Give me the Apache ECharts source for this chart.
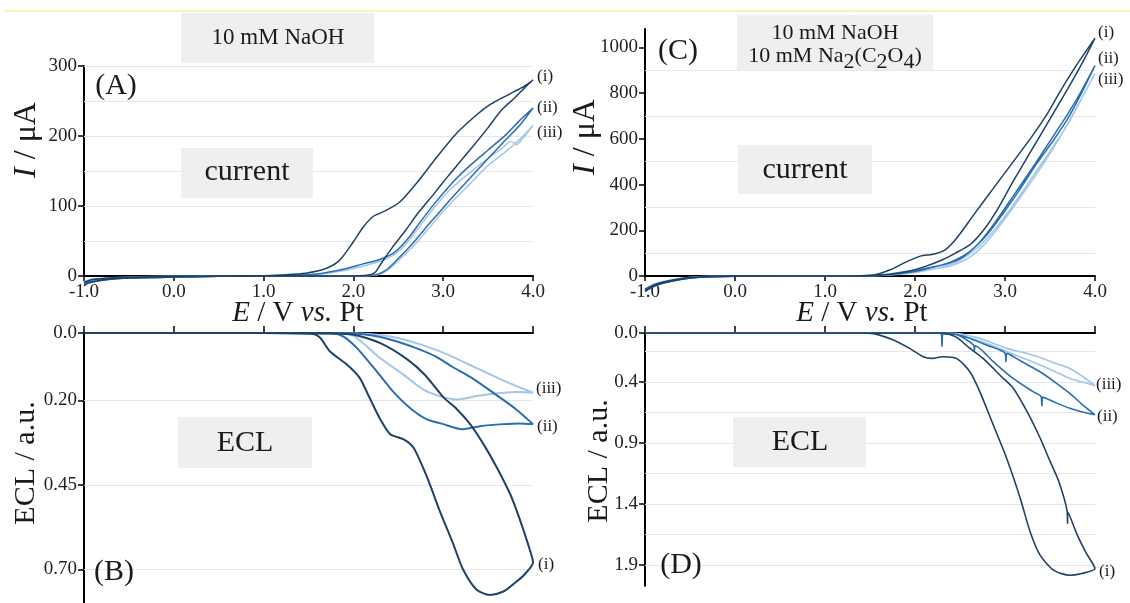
<!DOCTYPE html>
<html><head><meta charset="utf-8">
<script src="https://cdn.jsdelivr.net/npm/echarts@6/dist/echarts.min.js"></script>
<style>html,body{margin:0;padding:0;background:#fff}#c{width:1130px;height:603px}</style>
</head><body><div id="c"></div>
<script>
// ---------- DATA ----------
const xTicks = [-1, 0, 1, 2, 3, 4];
// Panel A current (µA)
const A_i_fwd = [[-1.0,-9],[-0.9,-5],[-0.7,-3],[-0.4,-1.5],[0,-0.5],[0.5,0],[1.0,0.5],[1.2,1.5],[1.47,4],[1.7,11],[1.85,23],[2.0,49],[2.11,70],[2.22,85],[2.37,94],[2.52,106],[2.7,132],[2.93,170],[3.15,204],[3.37,230],[3.5,243],[3.65,254],[3.8,264],[3.9,271],[4.0,280]];
const A_i_rev = [[4.0,280],[3.9,268],[3.8,255],[3.65,237],[3.5,212],[3.33,185],[3.18,162],[3.05,142],[2.9,118],[2.72,90],[2.58,65],[2.44,42],[2.32,20],[2.24,5],[2.15,1],[1.8,0],[1.0,0],[0.5,-0.5],[0,-1.5],[-0.5,-3],[-0.8,-6],[-0.95,-10],[-1.0,-14]];
const A_ii_fwd = [[-1.0,-10],[-0.9,-5],[-0.7,-3],[-0.4,-1.5],[0,-0.5],[0.5,0],[1.0,0.3],[1.3,1],[1.6,3],[1.9,10],[2.1,17],[2.3,24],[2.45,33],[2.6,52],[2.75,78],[2.9,103],[3.1,133],[3.3,158],[3.5,180],[3.7,202],[3.85,222],[4.0,240]];
const A_ii_rev = [[4.0,240],[3.85,215],[3.7,195],[3.5,168],[3.3,140],[3.1,112],[2.95,90],[2.8,68],[2.65,45],[2.5,25],[2.38,10],[2.28,3],[2.15,0.5],[1.5,0],[0.5,-0.5],[0,-1.5],[-0.5,-3],[-0.8,-6],[-0.95,-9],[-1.0,-12]];
const A_iii_fwd = [[-1.0,-8],[-0.9,-4],[-0.7,-2.5],[-0.4,-1],[0,-0.5],[0.5,0],[1.0,0.3],[1.3,1],[1.6,2.5],[1.9,8],[2.1,14],[2.3,21],[2.45,30],[2.6,48],[2.75,73],[2.9,98],[3.1,126],[3.3,148],[3.5,168],[3.65,182],[3.75,192],[3.82,188],[3.88,196],[4.0,215]];
const A_iii_rev = [[4.0,215],[3.85,195],[3.7,178],[3.5,158],[3.3,132],[3.1,106],[2.95,85],[2.8,62],[2.65,40],[2.5,22],[2.38,8],[2.28,2],[2.15,0.3],[1.5,0],[0.5,-0.5],[0,-1],[-0.5,-2.5],[-0.8,-5],[-0.95,-8],[-1.0,-11]];
// Panel B ECL (a.u.)
const B_i_fwd = [[-1.0,0],[0,0],[1.0,0],[1.55,0.003],[1.63,0.014],[1.74,0.055],[1.93,0.094],[2.07,0.133],[2.18,0.192],[2.3,0.256],[2.41,0.30],[2.56,0.315],[2.67,0.34],[2.82,0.427],[2.96,0.526],[3.11,0.624],[3.22,0.70],[3.37,0.76],[3.52,0.776],[3.67,0.766],[3.8,0.74],[3.9,0.717],[4.0,0.68]];
const B_i_rev = [[4.0,0.68],[3.95,0.63],[3.85,0.55],[3.75,0.48],[3.6,0.40],[3.45,0.33],[3.3,0.27],[3.15,0.225],[3.0,0.19],[2.8,0.125],[2.6,0.078],[2.3,0.03],[2.0,0.005],[1.5,0],[0,0],[-1.0,0]];
const B_ii_fwd = [[-1.0,0],[1.0,0],[1.8,0.002],[1.9,0.012],[2.04,0.045],[2.26,0.114],[2.44,0.173],[2.63,0.222],[2.82,0.256],[3.0,0.27],[3.21,0.285],[3.41,0.276],[3.67,0.27],[3.85,0.268],[4.0,0.27]];
const B_ii_rev = [[4.0,0.27],[3.81,0.226],[3.61,0.187],[3.33,0.135],[3.1,0.1],[2.92,0.07],[2.7,0.045],[2.52,0.028],[2.3,0.012],[2.11,0.004],[1.9,0],[-1.0,0]];
const B_iii_fwd = [[-1.0,0],[1.0,0],[1.9,0.002],[2.0,0.008],[2.15,0.04],[2.3,0.075],[2.56,0.124],[2.78,0.168],[2.96,0.187],[3.15,0.197],[3.37,0.187],[3.67,0.177],[3.85,0.175],[4.0,0.177]];
const B_iii_rev = [[4.0,0.177],[3.73,0.148],[3.5,0.12],[3.33,0.099],[3.1,0.07],[2.92,0.05],[2.7,0.03],[2.52,0.016],[2.3,0.006],[2.11,0.002],[1.9,0],[-1.0,0]];
// Panel C current (µA)
const C_i_fwd = [[-1.0,-62],[-0.9,-40],[-0.8,-28],[-0.6,-12],[-0.4,-4],[-0.2,-1],[0,0],[1.0,0],[1.3,0.5],[1.54,4],[1.72,26],[1.91,63],[2.06,87],[2.2,95],[2.33,113],[2.46,164],[2.65,266],[2.87,383],[3.09,499],[3.31,616],[3.46,703],[3.61,805],[3.8,925],[4.0,1040]];
const C_i_rev = [[4.0,1040],[3.85,925],[3.7,820],[3.52,700],[3.37,600],[3.22,500],[3.07,400],[2.93,300],[2.78,210],[2.62,140],[2.45,100],[2.3,70],[2.1,40],[1.9,18],[1.7,6],[1.5,1],[1.3,0],[1.0,0],[0,-1],[-0.4,-6],[-0.6,-15],[-0.8,-32],[-0.9,-45],[-1.0,-68]];
const C_ii_fwd = [[-1.0,-58],[-0.9,-38],[-0.8,-26],[-0.6,-11],[-0.4,-4],[-0.2,-1],[0,0],[1.0,0],[1.4,1],[1.7,8],[1.9,20],[2.1,32],[2.3,48],[2.5,75],[2.7,140],[2.9,240],[3.1,355],[3.3,470],[3.5,590],[3.7,710],[3.85,810],[4.0,920]];
const C_ii_rev = [[4.0,920],[3.85,800],[3.7,690],[3.55,600],[3.35,490],[3.15,370],[3.0,285],[2.8,180],[2.6,105],[2.4,62],[2.2,38],[2.0,20],[1.7,5],[1.4,0.5],[1.0,0],[0,-1],[-0.4,-5],[-0.6,-14],[-0.8,-30],[-0.9,-42],[-1.0,-64]];
const C_iii_fwd = [[-1.0,-55],[-0.9,-36],[-0.8,-24],[-0.6,-10],[-0.4,-3],[-0.2,-1],[0,0],[1.0,0],[1.5,1],[1.8,8],[2.0,18],[2.2,30],[2.4,45],[2.6,80],[2.8,150],[3.0,250],[3.2,360],[3.4,475],[3.6,600],[3.8,740],[4.0,885]];
const C_iii_rev = [[4.0,885],[3.85,775],[3.7,665],[3.5,545],[3.3,430],[3.1,315],[2.9,210],[2.7,125],[2.5,70],[2.3,40],[2.1,22],[1.9,10],[1.6,2],[1.3,0],[1.0,0],[0,-1],[-0.4,-5],[-0.6,-13],[-0.8,-28],[-0.9,-40],[-1.0,-60]];
// Panel D ECL (a.u.)
const D_i_fwd = [[-1.0,0],[1.0,0],[1.4,0],[1.54,0.005],[1.76,0.057],[1.94,0.126],[2.09,0.194],[2.19,0.208],[2.31,0.194],[2.46,0.208],[2.61,0.317],[2.72,0.48],[2.87,0.754],[3.02,1.03],[3.17,1.355],[3.28,1.63],[3.39,1.82],[3.54,1.943],[3.72,1.985],[3.85,1.97],[4.0,1.93]];
const D_i_rev = [[4.0,1.93],[3.9,1.8],[3.8,1.65],[3.7,1.47],[3.695,1.56],[3.69,1.46],[3.6,1.22],[3.5,1.05],[3.39,0.86],[3.25,0.65],[3.09,0.45],[2.95,0.35],[2.76,0.21],[2.6,0.12],[2.45,0.03],[2.3,0],[1.5,0],[-1.0,0]];
const D_ii_fwd = [[-1.0,0],[1.0,0],[2.2,0],[2.29,0],[2.3,0.11],[2.31,0.005],[2.45,0.01],[2.65,0.098],[2.66,0.14],[2.67,0.105],[2.87,0.235],[3.09,0.372],[3.31,0.48],[3.4,0.52],[3.41,0.6],[3.42,0.525],[3.54,0.563],[3.72,0.617],[3.85,0.645],[4.0,0.67]];
const D_ii_rev = [[4.0,0.67],[3.85,0.58],[3.72,0.495],[3.55,0.4],[3.39,0.317],[3.2,0.24],[3.02,0.167],[3.01,0.235],[3.0,0.165],[2.8,0.1],[2.6,0.04],[2.45,0.01],[2.35,0],[1.5,0],[-1.0,0]];
const D_iii_fwd = [[-1.0,0],[1.0,0],[2.3,0],[2.5,0.02],[2.65,0.05],[2.85,0.1],[3.02,0.153],[3.2,0.205],[3.39,0.262],[3.55,0.315],[3.72,0.372],[3.85,0.4],[4.0,0.43]];
const D_iii_rev = [[4.0,0.43],[3.85,0.35],[3.72,0.29],[3.55,0.245],[3.39,0.2],[3.2,0.16],[3.02,0.126],[2.7,0.04],[2.4,0],[1.5,0],[-1.0,0]];
// Tick labels and grid lines
const yTicksA = [0, 100, 200, 300];
const yTicksB = [0, 0.2, 0.45, 0.7];
const yTicksC = [0, 200, 400, 600, 800, 1000];
const yTicksD = [0, 0.4, 0.9, 1.4, 1.9];
const gridA = [50, 100, 150, 200, 250, 300];
const gridB = [0.2, 0.45, 0.7];
const gridC = [100, 300, 500, 700, 900];
const gridD = [0.15, 0.4, 0.65, 0.9, 1.15, 1.4, 1.65, 1.9];
const curveLabels = ['(i)', '(ii)', '(iii)'];

// ---------- STYLE ----------
const SERIF = '"Liberation Serif", "DejaVu Serif", serif';
const COL = ['#1e4268', '#2b6db1', '#a3c6e9'];
const TXT = '#1a1a1a';

function xAxis(gi, pos) {
  return {
    type: 'value', gridIndex: gi, min: -1, max: 4, interval: 1, position: pos,
    axisLine: {show: true, onZero: false, lineStyle: {color: '#000', width: 2}},
    axisTick: {show: true, length: pos === 'top' ? 7 : 5, lineStyle: {color: '#000', width: 1.5}},
    axisLabel: {show: pos !== 'top', margin: 7, color: '#222', fontFamily: SERIF, fontSize: 19,
      formatter: v => v.toFixed(1)},
    splitLine: {show: false}
  };
}
function yAxis(gi, max, ticks, inverse, fmt) {
  return {
    type: 'value', gridIndex: gi, min: 0, max: max, inverse: inverse,
    axisLine: {show: true, onZero: false, lineStyle: {color: '#000', width: 2}},
    axisTick: {show: true, length: 6, customValues: ticks, lineStyle: {color: '#000', width: 1.5}},
    axisLabel: {show: true, customValues: ticks, margin: 7, color: '#222', fontFamily: SERIF, fontSize: 19, formatter: fmt},
    splitLine: {show: false}
  };
}
function grid(vals) {
  return {silent: true, symbol: 'none', z: 1, animation: false, label: {show: false},
    lineStyle: {color: '#e6e6e6', width: 1, type: 'solid'}, emphasis: {disabled: true},
    data: vals.map(v => ({yAxis: v}))};
}
function ser(gi, data, ci, width, clip, ml) {
  const s = {type: 'line', xAxisIndex: gi, yAxisIndex: gi, data: data, showSymbol: false, symbol: 'none',
    smooth: 0.25, clip: clip, animation: false, z: 2 + (2 - ci),
    lineStyle: {color: COL[ci], width: width}};
  if (ml) s.markLine = ml;
  return s;
}
const series = [
  ser(0, A_iii_fwd.concat(A_iii_rev), 2, 1.5, false, grid(gridA)),
  ser(0, A_ii_fwd.concat(A_ii_rev), 1, 1.5, false),
  ser(0, A_i_fwd.concat(A_i_rev), 0, 1.5, false),
  ser(1, B_iii_fwd.concat(B_iii_rev), 2, 2, true, grid(gridB)),
  ser(1, B_ii_fwd.concat(B_ii_rev), 1, 2, true),
  ser(1, B_i_fwd.concat(B_i_rev), 0, 2, true),
  ser(2, C_iii_fwd.concat(C_iii_rev), 2, 1.5, false, grid(gridC)),
  ser(2, C_ii_fwd.concat(C_ii_rev), 1, 1.5, false),
  ser(2, C_i_fwd.concat(C_i_rev), 0, 1.5, false),
  ser(3, D_iii_fwd.concat(D_iii_rev), 2, 1.6, true, grid(gridD)),
  ser(3, D_ii_fwd.concat(D_ii_rev), 1, 1.6, true),
  ser(3, D_i_fwd.concat(D_i_rev), 0, 1.6, true)
];

// ---------- ANNOTATIONS ----------
function rich(size) {
  return {
    n: {fontFamily: SERIF, fontSize: size, color: TXT},
    i: {fontFamily: SERIF, fontSize: size, color: TXT, fontStyle: 'italic'},
    s: {fontFamily: SERIF, fontSize: size, color: TXT, padding: [12, 0, 0, 0]}
  };
}
function txt(x, y, text, size, opts) {
  opts = opts || {};
  return {type: 'text', x: x, y: y, rotation: opts.rot || 0, z: 20, silent: true,
    style: {text: text, rich: rich(size), fontFamily: SERIF, fontSize: size, fill: TXT,
      align: opts.align || 'center', verticalAlign: 'middle',
      textAlign: opts.align || 'center', textVerticalAlign: 'middle'}};
}
function box(x, y, w, h) {
  return {type: 'rect', shape: {x: x, y: y, width: w, height: h}, z: 10, silent: true,
    style: {fill: '#f0eeee'}};
}
const graphics = [
  {type: 'line', shape: {x1: 4, y1: 11, x2: 1130, y2: 11}, silent: true, style: {stroke: '#efe86a', lineWidth: 1}},
  box(181, 13, 193, 50), txt(278, 38, '{n|10 mM NaOH}', 23),
  box(181, 148, 132, 50), txt(247, 172, '{n|current}', 30),
  box(178, 417, 134, 51), txt(245, 443, '{n|ECL}', 30),
  box(737, 15, 196, 55), txt(835, 33, '{n|10 mM NaOH}', 22),
  txt(835, 56, '{n|10 mM Na}{s|2}{n|(C}{s|2}{n|O}{s|4}{n|)}', 22),
  box(738, 145, 134, 49), txt(805, 170, '{n|current}', 30),
  box(733, 417, 133, 50), txt(800, 442, '{n|ECL}', 30),
  txt(116, 86, '{n|(A)}', 30), txt(114, 572, '{n|(B)}', 30),
  txt(678, 51, '{n|(C)}', 30), txt(681, 565, '{n|(D)}', 30),
  txt(27, 140, '{i|I}{n| / μA}', 32, {rot: Math.PI / 2}),
  txt(586, 137, '{i|I}{n| / μA}', 32, {rot: Math.PI / 2}),
  txt(26, 463, '{n|ECL / a.u.}', 30, {rot: Math.PI / 2}),
  txt(599, 461, '{n|ECL / a.u.}', 30, {rot: Math.PI / 2}),
  txt(298, 313, '{i|E}{n| / V }{i|vs.}{n| Pt}', 29),
  txt(862, 313, '{i|E}{n| / V }{i|vs.}{n| Pt}', 29),
  // curve labels
  txt(537, 77, '{n|' + curveLabels[0] + '}', 17, {align: 'left'}),
  txt(537, 108, '{n|' + curveLabels[1] + '}', 17, {align: 'left'}),
  txt(537, 133, '{n|' + curveLabels[2] + '}', 17, {align: 'left'}),
  txt(538, 565, '{n|' + curveLabels[0] + '}', 17, {align: 'left'}),
  txt(537, 427, '{n|' + curveLabels[1] + '}', 17, {align: 'left'}),
  txt(536, 389, '{n|' + curveLabels[2] + '}', 17, {align: 'left'}),
  txt(1098, 33, '{n|' + curveLabels[0] + '}', 17, {align: 'left'}),
  txt(1098, 59, '{n|' + curveLabels[1] + '}', 17, {align: 'left'}),
  txt(1098, 80, '{n|' + curveLabels[2] + '}', 17, {align: 'left'}),
  txt(1099, 572, '{n|' + curveLabels[0] + '}', 17, {align: 'left'}),
  txt(1097, 417, '{n|' + curveLabels[1] + '}', 17, {align: 'left'}),
  txt(1096, 385, '{n|' + curveLabels[2] + '}', 17, {align: 'left'})
];

const chart = echarts.init(document.getElementById('c'), null, {renderer: 'canvas'});
chart.setOption({
  backgroundColor: '#fff',
  animation: false,
  grid: [
    {left: 84, top: 66, width: 449, height: 210},
    {left: 84, top: 333, width: 449, height: 272},
    {left: 645, top: 29, width: 450, height: 247},
    {left: 645, top: 333, width: 450, height: 252.7}
  ],
  xAxis: [xAxis(0, 'bottom'), xAxis(1, 'top'), xAxis(2, 'bottom'), xAxis(3, 'top')],
  yAxis: [
    yAxis(0, 300, yTicksA, false, v => String(v)),
    yAxis(1, 0.8, yTicksB, true, v => v === 0 ? '0.0' : v.toFixed(2)),
    yAxis(2, 1080, yTicksC, false, v => String(v)),
    yAxis(3, 2.07, yTicksD, true, v => v.toFixed(1))
  ],
  series: series,
  graphic: graphics
});
</script>
</body></html>
